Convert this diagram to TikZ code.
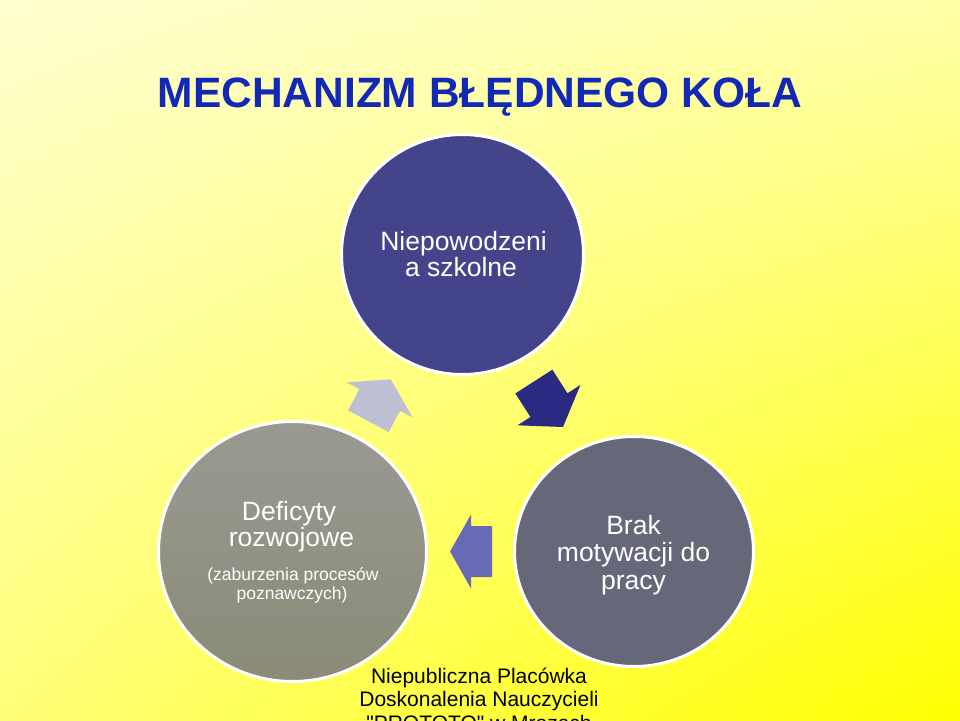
\documentclass[tikz,border=0pt]{standalone}
\usepackage{fontspec}
\setmainfont{Liberation Sans}
\newfontfamily\footfont{Liberation Sans}
\usetikzlibrary{shapes.geometric,shadings}
\definecolor{bgUL}{RGB}{255,255,208}
\definecolor{bgUR}{RGB}{255,255,168}
\definecolor{bgLL}{RGB}{255,255,120}
\definecolor{bgLR}{RGB}{255,255,0}
\definecolor{titleblue}{RGB}{18,40,182}
\definecolor{topfill}{RGB}{67,68,137}
\definecolor{leftfillA}{RGB}{153,153,146}
\definecolor{leftfillB}{RGB}{139,139,120}
\definecolor{rightfill}{RGB}{103,103,122}
\definecolor{arrowlight}{RGB}{191,191,212}
\definecolor{arrowdark}{RGB}{42,42,130}
\definecolor{arrowmid}{RGB}{104,106,182}
\begin{document}
\begin{tikzpicture}[x=1pt,y=-1pt,
  bubble/.style={ellipse, draw=white, line width=3pt, inner sep=0pt},
  wline/.style={anchor=base, inner sep=0pt, text=white},
  bigtxt/.style={font=\fontsize{26.5}{28}\selectfont},
  smalltxt/.style={font=\fontsize{17.5}{19}\selectfont},
  foot/.style={anchor=base, inner sep=0pt, text=black, font=\footfont\fontsize{21}{23}\selectfont}]
\useasboundingbox (0,0) rectangle (960,720);
% background
\shade[upper left=bgUL, upper right=bgUR, lower left=bgLL, lower right=bgLR] (0,0) rectangle (960,720);
% title
\node[anchor=base, inner sep=0pt, text=titleblue, font=\bfseries\fontsize{42.5}{48}\selectfont] (title) at (480,107) {MECHANIZM BŁĘDNEGO KOŁA};
% circles
\node[bubble, fill=topfill, minimum width=242pt, minimum height=240pt] (top) at (462.5,254.5) {};
\node[bubble, top color=leftfillA, bottom color=leftfillB, minimum width=268pt, minimum height=260pt] (left) at (292.5,551.5) {};
\node[bubble, fill=rightfill, minimum width=239pt, minimum height=230pt] (right) at (634,551.5) {};
% circle texts
\node[wline, bigtxt] (t1) at (463.5,250) {Niepowodzeni};
\node[wline, bigtxt] (t2) at (461,276.5) {a szkolne};
\node[wline, bigtxt] (r1) at (633.5,534) {Brak};
\node[wline, bigtxt] (r2) at (633.5,561.7) {motywacji do};
\node[wline, bigtxt] (r3) at (633.5,589) {pracy};
\node[wline, bigtxt] (l1) at (289,520) {Deficyty};
\node[wline, bigtxt] (l2) at (291.5,546.7) {rozwojowe};
\node[wline, smalltxt] (l3) at (293,580) {(zaburzenia procesów};
\node[wline, smalltxt] (l4) at (292,599.3) {poznawczych)};
% block arrows (tip at origin, pointing along +x, then rotated)
\begin{scope}[shift={(390.7,379.3)}, rotate=61.9]
  \fill[arrowlight] (0,0) -- (-23.4,37.3) -- (-23.4,23) -- (-47.5,23) -- (-47.5,-23) -- (-23.4,-23) -- (-23.4,-37.3) -- cycle;
\end{scope}
\begin{scope}[shift={(563,427)}, rotate=-57.3]
  \fill[arrowdark] (0,0) -- (-26,37.4) -- (-26,22) -- (-54,22) -- (-54,-22) -- (-26,-22) -- (-26,-37.4) -- cycle;
\end{scope}
\begin{scope}[shift={(450,551.5)}, rotate=180]
  \fill[arrowmid] (0,0) -- (-21,37) -- (-21,25.5) -- (-42,25.5) -- (-42,-25.5) -- (-21,-25.5) -- (-21,-37) -- cycle;
\end{scope}
% footer
\node[foot] (f1) at (479,683.3) {Niepubliczna Placówka};
\node[foot] (f2) at (479,706.7) {Doskonalenia Nauczycieli};
\node[foot] (f3) at (479,730) {"PROTOTO" w Mrozach};
\end{tikzpicture}
\end{document}
